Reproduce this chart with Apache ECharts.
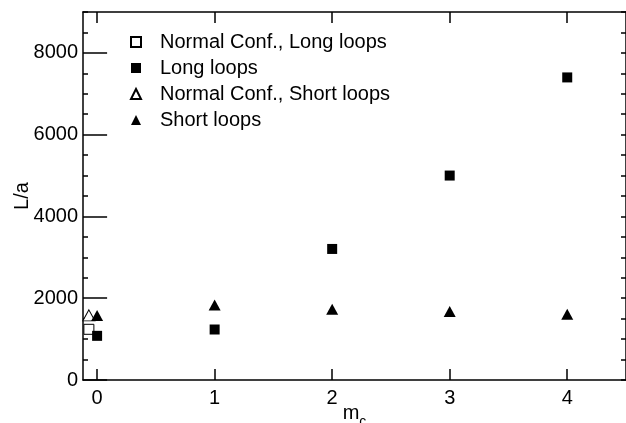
<!DOCTYPE html>
<html>
<head>
<meta charset="utf-8">
<script src="https://cdn.jsdelivr.net/npm/echarts@6/dist/echarts.min.js"></script>
<style>
html,body{margin:0;padding:0;background:#fff;}
#c{width:626px;height:423px;}
</style>
</head>
<body>
<div id="c"></div>
<script>
// Data
const normalLongX = [-0.07];
const normalLongY = [1240];
const longX = [0, 1, 2, 3, 4];
const longY = [1080, 1235, 3205, 5000, 7400];
const normalShortX = [-0.07];
const normalShortY = [1580];
const shortX = [0, 1, 2, 3, 4];
const shortY = [1575, 1835, 1730, 1675, 1610];

const xTicks = [0, 1, 2, 3, 4];
const yTicks = [0, 2000, 4000, 6000, 8000];
const seriesNames = ['Normal Conf., Long loops', 'Long loops', 'Normal Conf., Short loops', 'Short loops'];

const FONT = 'Liberation Sans, Arial, Helvetica, sans-serif';
const X_MIN = -0.12, X_MAX = 4.5, Y_MIN = 0, Y_MAX = 9000;

function pairs(xs, ys) { return xs.map((x, i) => [x, ys[i]]); }
const plain = v => String(v);

const lineStyle = { color: '#000', width: 1.5 };

const chart = echarts.init(document.getElementById('c'), null, { renderer: 'canvas' });
chart.setOption({
  animation: false,
  backgroundColor: '#fff',
  grid: { left: 83, right: 0, top: 12, bottom: 43, containLabel: false, outerBoundsMode: 'none' },
  legend: {
    orient: 'vertical',
    left: 125,
    top: 27,
    itemWidth: 10,
    itemHeight: 10,
    itemGap: 6,
    data: seriesNames,
    textStyle: { fontFamily: FONT, fontSize: 20, color: '#000', padding: [0, 0, 0, 14] },
    selectedMode: false
  },
  xAxis: [
    {
      type: 'value', position: 'bottom', min: X_MIN, max: X_MAX,
      name: '{m|m}{c|c}', nameLocation: 'middle', nameGap: 23, nameMoveOverlap: false,
      nameTextStyle: { rich: {
        m: { fontFamily: FONT, fontSize: 20, color: '#000' },
        c: { fontFamily: FONT, fontSize: 14, color: '#000', verticalAlign: 'bottom', padding: [0, 0, -6, 0] }
      } },
      axisLine: { show: true, onZero: false, lineStyle: lineStyle },
      axisTick: { show: true, inside: true, length: 11, lineStyle: lineStyle, customValues: xTicks },
      axisLabel: { show: true, customValues: xTicks, formatter: plain, margin: 8, fontFamily: FONT, fontSize: 20, color: '#000' },
      splitLine: { show: false }
    },
    {
      type: 'value', position: 'top', min: X_MIN, max: X_MAX,
      axisLine: { show: true, onZero: false, lineStyle: lineStyle },
      axisTick: { show: true, inside: true, length: 11, lineStyle: lineStyle, customValues: xTicks },
      axisLabel: { show: false },
      splitLine: { show: false }
    }
  ],
  yAxis: [
    {
      type: 'value', position: 'left', min: Y_MIN, max: Y_MAX, interval: 500,
      name: 'L/a', nameLocation: 'middle', nameGap: 51, nameRotate: 90, nameMoveOverlap: false,
      nameTextStyle: { fontFamily: FONT, fontSize: 20, color: '#000' },
      axisLine: { show: true, onZero: false, lineStyle: lineStyle },
      axisTick: { show: true, inside: true, length: 5, lineStyle: lineStyle },
      axisLabel: { show: true, customValues: yTicks, formatter: plain, margin: 5, fontFamily: FONT, fontSize: 20, color: '#000' },
      splitLine: { show: false }
    },
    {
      type: 'value', position: 'left', min: Y_MIN, max: Y_MAX,
      axisLine: { show: false },
      axisTick: { show: true, inside: true, length: 10, lineStyle: lineStyle, customValues: yTicks },
      axisLabel: { show: false },
      splitLine: { show: false }
    },
    {
      type: 'value', position: 'right', min: Y_MIN, max: Y_MAX, interval: 500,
      axisLine: { show: true, onZero: false, lineStyle: lineStyle },
      axisTick: { show: true, inside: true, length: 5, lineStyle: lineStyle },
      axisLabel: { show: false },
      splitLine: { show: false }
    },
    {
      type: 'value', position: 'right', min: Y_MIN, max: Y_MAX,
      axisLine: { show: false },
      axisTick: { show: true, inside: true, length: 11, lineStyle: lineStyle, customValues: yTicks },
      axisLabel: { show: false },
      splitLine: { show: false }
    }
  ],
  series: [
    {
      name: seriesNames[0], type: 'scatter', symbol: 'rect', symbolSize: 10,
      itemStyle: { color: '#fff', borderColor: '#000', borderWidth: 1, opacity: 1 },
      data: pairs(normalLongX, normalLongY), z: 3
    },
    {
      name: seriesNames[1], type: 'scatter', symbol: 'rect', symbolSize: 10,
      itemStyle: { color: '#000', borderColor: '#000', borderWidth: 0, opacity: 1 },
      data: pairs(longX, longY), z: 4
    },
    {
      name: seriesNames[2], type: 'scatter', symbol: 'triangle', symbolSize: [12, 11],
      itemStyle: { color: '#fff', borderColor: '#000', borderWidth: 1, opacity: 1 },
      data: pairs(normalShortX, normalShortY), z: 3
    },
    {
      name: seriesNames[3], type: 'scatter', symbol: 'triangle', symbolSize: [12, 11],
      itemStyle: { color: '#000', borderColor: '#000', borderWidth: 0, opacity: 1 },
      data: pairs(shortX, shortY), z: 4
    }
  ]
});
</script>
</body>
</html>
